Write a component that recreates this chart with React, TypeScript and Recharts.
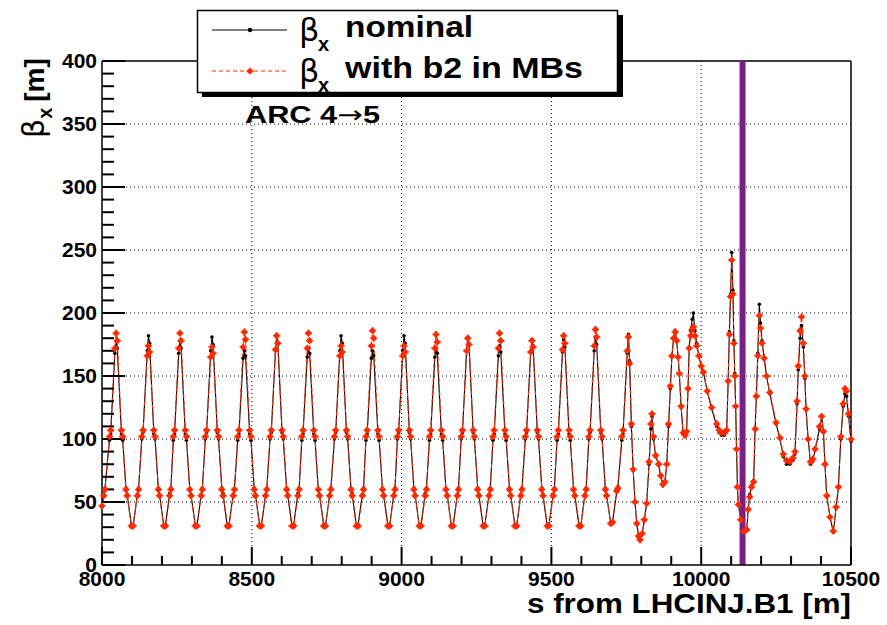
import React from 'react';
import { LineChart, Line, XAxis, YAxis, CartesianGrid, ReferenceLine } from 'recharts';

// arc cells: position along the ring [m]
const arcPos = [
  8000, 8006, 8010,
  8025, 8029, 8043, 8047, 8051, 8065, 8069, 8080, 8084, 8098, 8104, 8118, 8122,
  8133, 8137, 8151, 8155, 8159, 8173, 8177, 8188, 8192, 8206, 8212, 8226, 8230,
  8238, 8242, 8256, 8260, 8264, 8278, 8282, 8293, 8297, 8311, 8317, 8331, 8335,
  8345, 8349, 8363, 8367, 8371, 8385, 8389, 8400, 8404, 8418, 8424, 8438, 8442,
  8453, 8457, 8471, 8475, 8479, 8493, 8497, 8508, 8512, 8526, 8532, 8546, 8550,
  8561, 8565, 8579, 8583, 8587, 8601, 8605, 8616, 8620, 8634, 8640, 8654, 8658,
  8667, 8671, 8685, 8689, 8693, 8707, 8711, 8722, 8726, 8740, 8746, 8760, 8764,
  8776, 8780, 8794, 8798, 8802, 8816, 8820, 8831, 8835, 8849, 8855, 8869, 8873,
  8881, 8885, 8899, 8903, 8907, 8921, 8925, 8936, 8940, 8954, 8960, 8974, 8978,
  8986, 8990, 9004, 9008, 9012, 9026, 9030, 9041, 9045, 9059, 9065, 9079, 9083,
  9093, 9097, 9111, 9115, 9119, 9133, 9137, 9148, 9152, 9166, 9172, 9186, 9190,
  9199, 9203, 9217, 9221, 9225, 9239, 9243, 9254, 9258, 9272, 9278, 9292, 9296,
  9305, 9309, 9323, 9327, 9331, 9345, 9349, 9360, 9364, 9378, 9384, 9398, 9402,
  9413, 9417, 9431, 9435, 9439, 9453, 9457, 9468, 9472, 9486, 9492, 9506, 9510,
  9519, 9523, 9537, 9541, 9545, 9559, 9563, 9574, 9578, 9592, 9598, 9612, 9616,
  9625, 9629, 9643, 9647, 9651, 9665, 9669, 9680, 9684, 9698, 9704, 9718, 9722,
];

const arcNominal = [
  46, 56, 61,
  99, 104, 168, 178, 172, 104, 99, 61, 56, 32, 31, 56, 61,
  100, 105, 170, 182, 176, 104, 100, 61, 56, 31, 32, 57, 61,
  99, 104, 168, 178, 172, 104, 99, 60, 56, 32, 31, 56, 61,
  100, 105, 170, 181, 175, 105, 100, 61, 57, 31, 32, 56, 60,
  99, 104, 164, 170, 166, 104, 99, 61, 56, 32, 31, 56, 61,
  100, 105, 170, 182, 176, 105, 100, 61, 56, 31, 32, 57, 61,
  99, 104, 165, 172, 168, 104, 99, 60, 56, 32, 31, 56, 61,
  100, 105, 170, 182, 176, 105, 100, 61, 57, 31, 32, 56, 61,
  99, 104, 164, 170, 166, 104, 99, 61, 56, 32, 31, 56, 61,
  100, 105, 170, 182, 176, 105, 100, 61, 56, 31, 32, 57, 61,
  99, 104, 165, 172, 168, 104, 99, 60, 56, 32, 31, 56, 61,
  100, 105, 170, 181, 175, 105, 100, 61, 56, 31, 32, 56, 61,
  99, 104, 166, 174, 169, 104, 99, 61, 56, 32, 31, 56, 61,
  100, 105, 170, 179, 174, 105, 100, 61, 56, 31, 32, 56, 61,
  99, 104, 169, 179, 173, 104, 99, 60, 56, 32, 31, 56, 61,
  100, 105, 170, 181, 175, 105, 100, 61, 56, 33, 34, 58, 62,
];

const arcB2 = [
  47, 55, 60,
  102, 107, 172, 184, 178, 107, 102, 60, 55, 31, 31, 55, 60,
  102, 107, 166, 174, 169, 107, 102, 60, 55, 31, 31, 55, 60,
  102, 107, 172, 184, 178, 107, 102, 60, 55, 31, 31, 55, 60,
  102, 107, 165, 173, 168, 107, 102, 60, 55, 31, 31, 55, 60,
  102, 107, 173, 185, 179, 107, 102, 60, 55, 31, 31, 55, 60,
  102, 107, 171, 182, 176, 107, 102, 60, 55, 31, 31, 55, 60,
  102, 107, 172, 184, 178, 107, 102, 60, 55, 31, 31, 55, 60,
  102, 107, 166, 174, 169, 107, 102, 60, 55, 31, 31, 55, 60,
  102, 107, 174, 186, 180, 107, 102, 60, 55, 31, 31, 55, 60,
  102, 107, 166, 174, 169, 107, 102, 60, 55, 31, 31, 55, 60,
  102, 107, 172, 183, 177, 107, 102, 60, 55, 31, 31, 55, 60,
  102, 107, 170, 180, 175, 107, 102, 60, 55, 31, 31, 55, 60,
  102, 107, 172, 184, 178, 107, 102, 60, 55, 31, 31, 55, 60,
  102, 107, 169, 178, 173, 107, 102, 60, 55, 31, 31, 55, 60,
  102, 107, 171, 182, 176, 107, 102, 60, 55, 31, 31, 55, 60,
  102, 107, 174, 187, 181, 107, 102, 60, 55, 33, 34, 59, 61,
];

// dispersion suppressor / insertion region
const dsPos = [
  9735, 9739, 9753, 9757, 9761, 9767, 9773, 9779, 9785, 9791,
  9796, 9803, 9810, 9818, 9826, 9832, 9836, 9841, 9848, 9858,
  9865, 9872, 9879, 9885, 9891, 9897, 9902, 9908, 9913, 9918,
  9923, 9927, 9933, 9940, 9946, 9951, 9956, 9960, 9965, 9970,
  9974, 9979, 9985, 9992, 10000, 10007, 10020, 10035, 10052, 10060,
  10068, 10077, 10085, 10090, 10094, 10098, 10102, 10106, 10109, 10112,
  10115, 10118, 10121, 10124, 10132, 10142, 10152, 10157, 10162, 10168,
  10175, 10180, 10184, 10189, 10194, 10198, 10203, 10210, 10218, 10229,
  10250, 10263, 10274, 10285, 10296, 10306, 10313, 10320, 10324, 10330,
  10335, 10341, 10346, 10350, 10357, 10365, 10372, 10380, 10395, 10402,
  10408, 10413, 10419, 10430, 10441, 10450, 10458, 10466, 10474, 10480,
  10485, 10492, 10500,
];

const dsNominal = [
  99, 104, 168, 183, 162, 110, 75, 50, 33, 22,
  20, 25, 35, 49, 80, 108, 118, 100, 86, 80,
  70, 63, 66, 80, 110, 140, 165, 180, 186, 178,
  165, 152, 125, 104, 102, 105, 140, 173, 186, 195,
  200, 186, 176, 166, 158, 154, 138, 124, 110, 105,
  103, 103, 106, 146, 185, 215, 248, 218, 178, 152,
  126, 92, 62, 48, 36, 27, 28, 45, 56, 63,
  67, 108, 134, 168, 207, 192, 178, 165, 150, 136,
  112, 100, 86, 80, 80, 83, 88, 128, 155, 180,
  190, 173, 148, 123, 100, 80, 82, 91, 108, 118,
  106, 80, 55, 38, 26, 45, 62, 100, 126, 136,
  134, 118, 98,
];

const dsB2 = [
  102, 107, 170, 181, 160, 112, 76, 50, 33, 23,
  20, 25, 36, 49, 82, 112, 120, 102, 87, 80,
  71, 64, 66, 80, 112, 142, 166, 180, 185, 178,
  165, 152, 126, 105, 103, 106, 140, 172, 182, 187,
  189, 182, 174, 166, 158, 153, 138, 125, 112, 107,
  105, 105, 107, 146, 183, 213, 242, 215, 176, 150,
  126, 92, 62, 48, 36, 27, 28, 44, 54, 62,
  66, 108, 134, 166, 198, 188, 176, 164, 150, 137,
  113, 101, 88, 83, 82, 85, 90, 130, 158, 186,
  197, 176, 150, 124, 100, 82, 84, 92, 110, 118,
  106, 80, 55, 38, 27, 46, 62, 102, 128, 140,
  138, 120, 100,
];

const xMajor = [8000, 8500, 9000, 9500, 10000, 10500];
const yMajor = [0, 50, 100, 150, 200, 250, 300, 350, 400];
const xMinor = Array.from({ length: 26 }, (_, i) => 8000 + i * 100);
const yMinor = Array.from({ length: 41 }, (_, i) => i * 10);
const markerPos = 10138;

const FONT = "'Liberation Sans', Arial, Helvetica, sans-serif";
const RED = '#ff2a00';

// tick lengths in data units, pointing into the frame
const X_MAJOR_LEN = 14.3;
const X_MINOR_LEN = 7.2;
const Y_MAJOR_LEN = 77;
const Y_MINOR_LEN = 40;

const allPos = [...arcPos, ...dsPos];
const allNominal = [...arcNominal, ...dsNominal];
const allB2 = [...arcB2, ...dsB2];
const data = allPos.map((s, i) => ({ s, nominal: allNominal[i], b2: allB2[i] }));

const BlackDot = (props: any) => {
  const { cx, cy, index } = props;
  if (cx == null || cy == null) return null;
  return <circle key={`n${index}`} cx={cx} cy={cy} r={1.8} fill="#000" />;
};

const RedDot = (props: any) => {
  const { cx, cy, index } = props;
  if (cx == null || cy == null) return null;
  return (
    <g key={`r${index}`}>
      <circle cx={cx} cy={cy} r={2.6} fill={RED} />
      <path d={`M${cx - 3.6},${cy}h7.2M${cx},${cy - 3.6}v7.2`} stroke={RED} strokeWidth={1.5} />
    </g>
  );
};

const XTick = (props: any) => {
  const { x, y, payload } = props;
  return (
    <text x={x} y={y + 21} textAnchor="middle" fontFamily={FONT} fontWeight="bold" fontSize={21} fill="#000">
      {payload.value}
    </text>
  );
};

const YTick = (props: any) => {
  const { x, y, payload } = props;
  return (
    <text x={x - 5} y={y + 7} textAnchor="end" fontFamily={FONT} fontWeight="bold" fontSize={21} fill="#000">
      {payload.value}
    </text>
  );
};

const App: React.FC = () => {
  return (
    <div style={{ position: 'absolute', left: 0, top: 0, width: 887, height: 625, background: '#fff' }}>
      <LineChart width={887} height={625} data={data} margin={{ top: 61, right: 36, bottom: 0, left: 0 }}>
        <CartesianGrid
          horizontal
          vertical
          horizontalValues={[50, 100, 150, 200, 250, 300, 350]}
          verticalValues={[8500, 9000, 9500, 10000]}
          stroke="#000"
          strokeDasharray="1 3"
        />
        <XAxis
          type="number"
          dataKey="s"
          domain={[8000, 10500]}
          ticks={xMajor}
          interval={0}
          tickSize={0}
          tickMargin={0}
          tick={<XTick />}
          tickLine={false}
          height={60}
          axisLine={{ stroke: '#000', strokeWidth: 1.5 }}
        />
        <YAxis
          type="number"
          domain={[0, 400]}
          ticks={yMajor}
          interval={0}
          tickSize={0}
          tickMargin={0}
          tick={<YTick />}
          tickLine={false}
          width={102}
          axisLine={{ stroke: '#000', strokeWidth: 1.5 }}
        />
        <ReferenceLine y={400} stroke="#000" strokeWidth={1.5} />
        <ReferenceLine x={10500} stroke="#000" strokeWidth={1.5} />
        <Line
          type="linear"
          dataKey="nominal"
          stroke="#000"
          strokeWidth={1.1}
          dot={<BlackDot />}
          isAnimationActive={false}
        />
        <Line
          type="linear"
          dataKey="b2"
          stroke={RED}
          strokeWidth={1.1}
          strokeDasharray="4 3"
          dot={<RedDot />}
          isAnimationActive={false}
        />
        <ReferenceLine x={markerPos} stroke="#7b1f84" strokeWidth={6} />
        {xMinor.map((v) => (
          <ReferenceLine
            key={`xt${v}`}
            ifOverflow="visible"
            segment={[{ x: v, y: 0 }, { x: v, y: xMajor.includes(v) ? X_MAJOR_LEN : X_MINOR_LEN }]}
            stroke="#000"
            strokeWidth={2}
          />
        ))}
        {yMinor.map((v) => (
          <ReferenceLine
            key={`yt${v}`}
            ifOverflow="visible"
            segment={[{ x: 8000, y: v }, { x: 8000 + (yMajor.includes(v) ? Y_MAJOR_LEN : Y_MINOR_LEN), y: v }]}
            stroke="#000"
            strokeWidth={2}
          />
        ))}
      </LineChart>

      <svg width={887} height={625} style={{ position: 'absolute', left: 0, top: 0, pointerEvents: 'none' }}>
        {/* y title */}
        <text transform="translate(44,138) rotate(-90)" fontFamily={FONT} fill="#000">
          <tspan fontFamily="'DejaVu Sans', sans-serif" fontSize={30}>β</tspan>
          <tspan fontWeight="bold" fontSize={20} dy={8}>x</tspan>
          <tspan fontWeight="bold" fontSize={28} dy={-8} dx={6}>[m]</tspan>
        </text>

        {/* x title */}
        <text x={527} y={613} fontFamily={FONT} fontWeight="bold" fontSize={28} textLength={324} lengthAdjust="spacingAndGlyphs" fill="#000">
          s from LHCINJ.B1 [m]
        </text>

        {/* arc label */}
        <text x={245} y={123} fontFamily={FONT} fontWeight="bold" fontSize={24} textLength={135} lengthAdjust="spacingAndGlyphs" fill="#000">
          ARC 4<tspan fontWeight="normal" fontFamily="'DejaVu Sans', sans-serif">→</tspan>5
        </text>

        {/* legend */}
        <rect x={202} y={15} width={421} height={82} fill="#000" />
        <rect x={197.5} y={10.5} width={420} height={82} fill="#fff" stroke="#000" strokeWidth={1.5} />
        <line x1={212} x2={287} y1={30} y2={30} stroke="#000" strokeWidth={1.2} />
        <circle cx={250} cy={30} r={2.2} fill="#000" />
        <line x1={212} x2={287} y1={71} y2={71} stroke={RED} strokeWidth={1.2} strokeDasharray="4 3" />
        <circle cx={250} cy={71} r={2.6} fill={RED} />
        <path d="M246.5,71h7M250,67.5v7" stroke={RED} strokeWidth={1.4} />

        <text x={299} y={41} fontFamily="'DejaVu Sans', sans-serif" fontSize={32} fill="#000">β</text>
        <text x={318} y={51} fontFamily={FONT} fontWeight="bold" fontSize={20} fill="#000">x</text>
        <text x={345} y={37} fontFamily={FONT} fontWeight="bold" fontSize={29} textLength={128} lengthAdjust="spacingAndGlyphs" fill="#000">nominal</text>

        <text x={299} y={82} fontFamily="'DejaVu Sans', sans-serif" fontSize={32} fill="#000">β</text>
        <text x={318} y={92} fontFamily={FONT} fontWeight="bold" fontSize={20} fill="#000">x</text>
        <text x={345} y={78} fontFamily={FONT} fontWeight="bold" fontSize={29} textLength={238} lengthAdjust="spacingAndGlyphs" fill="#000">with b2 in MBs</text>
      </svg>
    </div>
  );
};

export default App;
